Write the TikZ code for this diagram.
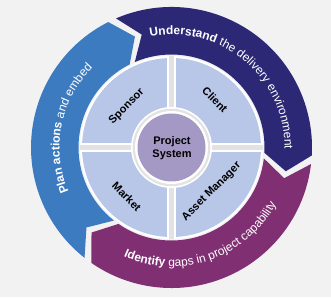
\documentclass[tikz,border=0pt]{standalone}
\usepackage{fontspec}
\setmainfont{Liberation Sans}
\usetikzlibrary{decorations.text}
\definecolor{bgc}{HTML}{F2F2F2}
\definecolor{blueA}{HTML}{3D7BC0}
\definecolor{navyA}{HTML}{2D2876}
\definecolor{plumA}{HTML}{812F73}
\definecolor{quadA}{HTML}{B8C7E8}
\definecolor{centA}{HTML}{A499C4}
\definecolor{sepA}{HTML}{E2E2E2}
\newcommand\rtxtb{\fontsize{12}{14}\selectfont\bfseries}
\newcommand\rtxtr{\fontsize{12}{14}\selectfont\mdseries}
\tikzset{
  qlabel/.style={font=\fontsize{11}{13}\selectfont\bfseries, text=black, inner sep=0pt},
  clabel/.style={font=\fontsize{11}{13.3}\selectfont\bfseries, text=black, align=center, inner sep=0pt},
  ringtext/.style={decorate, decoration={text along path, text align=center, text color=white, text={#1}}}
}
\begin{document}
\begin{tikzpicture}[x=1pt,y=1pt]
\useasboundingbox (0,0) rectangle (331,297);
\fill[bgc] (0,0) rectangle (331,297);
\begin{scope}[shift={(171.5,149.5)}]
  % ring arrows
  \fill[blueA] (231.75:140.5pt) arc[start angle=231.75, end angle=116.75, radius=140.5pt]
     -- (108.25:116.75pt) -- (116.75:93pt) arc[start angle=116.75, end angle=231.75, radius=93pt]
     -- (223.25:116.75pt) -- cycle;
  \fill[navyA] (113.25:140.5pt) arc[start angle=113.25, end angle=-3.25, radius=140.5pt]
     -- (-11.75:116.75pt) -- (-3.25:93pt) arc[start angle=-3.25, end angle=113.25, radius=93pt]
     -- (104.75:116.75pt) -- cycle;
  \fill[plumA] (-6.75:140.5pt) arc[start angle=-6.75, end angle=-124.75, radius=140.5pt]
     -- (-133.25:116.75pt) -- (-124.75:93pt) arc[start angle=-124.75, end angle=-6.75, radius=93pt]
     -- (-15.25:116.75pt) -- cycle;
  % ring texts
  \path[ringtext={|\rtxtb|Understand |\rtxtr|the delivery environment}]
     (150:113pt) arc[start angle=150, end angle=-50, radius=113pt];
  \path[ringtext={|\rtxtb|Plan actions |\rtxtr|and embed}]
     (229:112pt) arc[start angle=229, end angle=109, radius=112pt];
  \path[ringtext={|\rtxtb|Identify |\rtxtr|gaps in project capability}]
     (229:119pt) arc[start angle=229, end angle=349, radius=119pt];
  % quadrant disk
  \fill[white] (0,0) circle[radius=91.5pt];
  \fill[quadA] (0,0) circle[radius=89.5pt];
  \begin{scope}
    \clip (0,0) circle[radius=91.5pt];
    \fill[white] (-100,-4.2) rectangle (100,4.2);
    \fill[white] (-4.2,-100) rectangle (4.2,100);
    \fill[sepA] (-100,-2.6) rectangle (100,2.6);
    \fill[sepA] (-2.6,-100) rectangle (2.6,100);
  \end{scope}
  \fill[white] (0,0) circle[radius=40.5pt];
  \fill[sepA] (0,0) circle[radius=38.8pt];
  \fill[white] (0,0) circle[radius=36.5pt];
  \fill[centA] (0,0) circle[radius=34pt];
  % labels
  \node[qlabel, rotate=45] (sponsor) at (-44.8,40.8) {Sponsor};
  \node[qlabel, rotate=-45] (client) at (43.5,47.5) {Client};
  \node[qlabel, rotate=-45] (market) at (-44.8,-49.2) {Market};
  \node[qlabel, rotate=45] (asset) at (40.2,-44.2) {Asset Manager};
  \node[clabel] (ps) at (0.5,-0.5) {Project\\System};
\end{scope}
\end{tikzpicture}
\end{document}
